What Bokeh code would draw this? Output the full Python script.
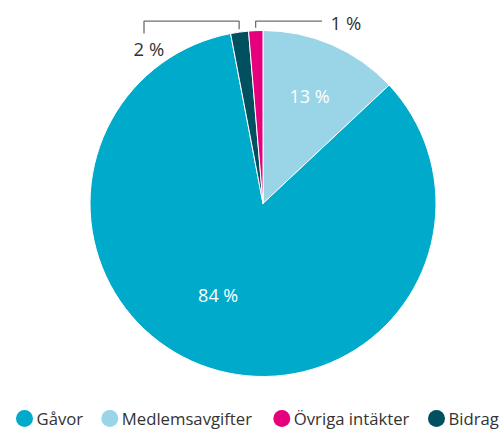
import math
from bokeh.plotting import figure
from bokeh.models import Range1d, ColumnDataSource
from bokeh.core.properties import value
from bokeh.embed import file_html
from bokeh.resources import INLINE

# ---- data (clockwise from 12 o'clock) ----
categories = ["Medlemsavgifter", "Gåvor", "Bidrag", "Övriga intäkter"]
shares = [13.0, 84.0, 1.67, 1.33]
labels = ["13 %", "84 %", "2 %", "1 %"]
colors = ["#99d5e7", "#00aacb", "#00505f", "#e5007d"]
legend_order = ["Gåvor", "Medlemsavgifter", "Övriga intäkter", "Bidrag"]

# ---- layout (pixels, y downward) ----
W, H = 499, 429
CX, CY, R = 262.5, 203.0, 173.0
FONT = "Open Sans"
TEXT_COL = "#333333"
CONN_COL = "#6e6e6e"


def Y(py):
    return H - py


p = figure(width=W, height=H, output_backend="svg", toolbar_location=None,
           x_range=Range1d(0, W), y_range=Range1d(0, H),
           x_axis_location=None, y_axis_location=None, min_border=0,
           outline_line_color=None, background_fill_color="white",
           border_fill_color="white")
p.grid.visible = False

total = sum(shares)
starts, ends, mids = [], [], []
c = 0.0
for s in shares:
    a0 = c / total * 2 * math.pi
    c += s
    a1 = c / total * 2 * math.pi
    starts.append(math.pi / 2 - a0)
    ends.append(math.pi / 2 - a1)
    mids.append((a0 + a1) / 2)  # clockwise from top

src = ColumnDataSource(dict(x=[CX] * len(shares), y=[Y(CY)] * len(shares),
                            start=starts, end=ends, color=colors, cat=categories))
p.wedge(x="x", y="y", radius=R, start_angle="start", end_angle="end",
        direction="clock", fill_color="color", line_color="white",
        line_width=1, source=src)

# inside labels (pixel offsets relative to center, layout only)
inside = {0: (117, 0, 0), 1: (103, -13, -6)}
for i, (rr, dx, dy) in inside.items():
    th = mids[i]
    lx = CX + rr * math.sin(th) + dx
    ly = CY - rr * math.cos(th) + dy
    p.text(x=[lx], y=[Y(ly)], text=[labels[i]], text_color="white",
           text_font=value(FONT), text_font_size="18px",
           text_align="center", text_baseline="middle")

# outside labels with connectors
CONN_Y = 20.7
outside = {
    2: dict(elbow_x=143.5, end_y=33.0, lx=133.0, ly=47.5),
    3: dict(elbow_x=321.5, end_y=None, lx=330.0, ly=21.5),
}
for i, o in outside.items():
    th = mids[i]
    ax = CX + (R + 3) * math.sin(th)
    ay = CY - (R + 3) * math.cos(th)
    xs = [ax, ax, o["elbow_x"]]
    ys = [ay, CONN_Y, CONN_Y]
    if o["end_y"] is not None:
        xs.append(o["elbow_x"])
        ys.append(o["end_y"])
    p.line(x=xs, y=[Y(v) for v in ys], line_color=CONN_COL, line_width=1.3)
    p.text(x=[o["lx"]], y=[Y(o["ly"])], text=[labels[i]], text_color=TEXT_COL,
           text_font=value(FONT), text_font_size="18.5px",
           text_align="left", text_baseline="middle")

# legend (drawn manually, horizontal row at bottom)
LEG_Y = 418.0
LEG_X = [24.0, 109.3, 281.3, 436.0]
for name, lx in zip(legend_order, LEG_X):
    col = colors[categories.index(name)]
    p.scatter(x=[lx], y=[Y(LEG_Y)], size=17, marker="circle",
              fill_color=col, line_color=None)
    p.text(x=[lx + 12], y=[Y(LEG_Y)], text=[name], text_color=TEXT_COL,
           text_font=value(FONT), text_font_size="16.7px",
           text_align="left", text_baseline="middle")

open("out.html", "w").write(file_html(p, INLINE))
